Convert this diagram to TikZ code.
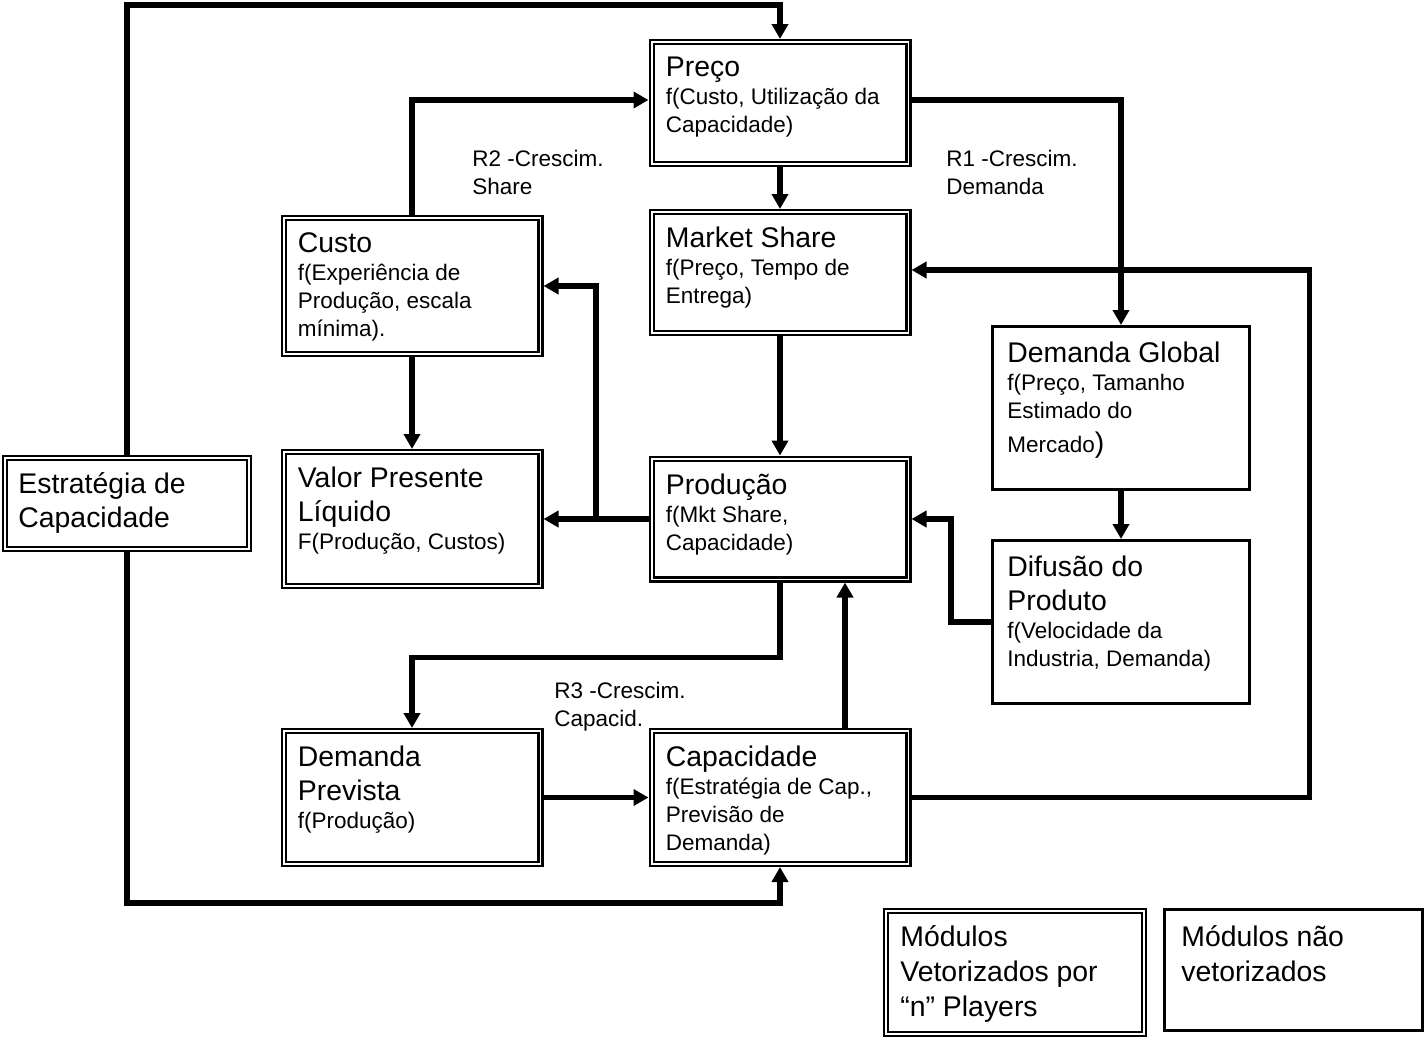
\documentclass[tikz,border=0pt]{standalone}
\usepackage{fontspec}
\setmainfont{Liberation Sans}
\usetikzlibrary{arrows.meta}
\newcommand{\titulo}{\fontsize{14.2}{17}\selectfont}

\tikzset{
	modulo/.style={draw, double, double distance=0.9pt, line width=1.1pt, outer sep=1.55pt, minimum width=128.4pt, inner sep=0pt},
	simples/.style={draw, line width=1.6pt, outer sep=0.8pt, minimum width=128.4pt, inner sep=0pt},
	seta/.style={-{Triangle[length=7.5pt,width=8pt]}, line width=2.7pt},
	texto/.style={anchor=north west, align=left, inner sep=0pt, font=\fontsize{11.25}{14}\selectfont},
}

\begin{document}
\begin{tikzpicture}[x=0.5pt, y=-0.5pt]
			\useasboundingbox (0,0) rectangle (1426,1040);

			% modulos
			\node[modulo, minimum height=60.9pt]	(preco)		at (780,103)	{};
			\node[modulo, minimum height=60.4pt]	(mshare)	at (780,272.5)	{};
			\node[modulo, minimum height=67.9pt]	(custo)		at (412,286)	{};
			\node[modulo, minimum height=66.9pt]	(vpl)		at (412,519)	{};
			\node[modulo, minimum height=60.4pt]	(prod)		at (780,519)	{};
			\node[modulo, minimum height=66.4pt]	(demprev)	at (412,797.5)	{};
			\node[modulo, minimum height=66.4pt]	(capac)		at (780,797.5)	{};
			\node[modulo, minimum width=121.9pt, minimum height=45.4pt]	(estrat)	at (127,503.5)	{};
			\node[simples, minimum height=81.4pt]	(demglob)	at (1121,408)	{};
			\node[simples, minimum height=81.4pt]	(difusao)	at (1121,622)	{};

			% legenda
			\node[modulo, minimum width=128.9pt, minimum height=61.4pt]		(leg1)	at (1015,972.5)	{};
			\node[simples, minimum width=128.9pt, minimum height=60.4pt]	(leg2)	at (1293.5,970)	{};

			% textos
			\node[texto] (preco-t)	at ([xshift=8.5pt, yshift=-8.8pt]preco.north west)	{{\titulo Preço}\\f(Custo, Utilização da\\Capacidade)};
			\node[texto] (mshare-t)	at ([xshift=8.5pt, yshift=-8.8pt]mshare.north west)	{{\titulo Market Share}\\f(Preço, Tempo de\\Entrega)};
			\node[texto] (custo-t)	at ([xshift=8.5pt, yshift=-8.8pt]custo.north west)	{{\titulo Custo}\\f(Experiência de\\Produção, escala\\mínima).};
			\node[texto] (vpl-t)	at ([xshift=8.5pt, yshift=-8.8pt]vpl.north west)	{{\titulo Valor Presente}\\[3pt]{\titulo Líquido}\\F(Produção, Custos)};
			\node[texto] (prod-t)	at ([xshift=8.5pt, yshift=-8.8pt]prod.north west)	{{\titulo Produção}\\f(Mkt Share,\\Capacidade)};
			\node[texto] (demprev-t) at ([xshift=8.5pt, yshift=-8.8pt]demprev.north west)	{{\titulo Demanda}\\[3pt]{\titulo Prevista}\\f(Produção)};
			\node[texto] (capac-t)	at ([xshift=8.5pt, yshift=-8.8pt]capac.north west)	{{\titulo Capacidade}\\f(Estratégia de Cap.,\\Previsão de\\Demanda)};
			\node[texto, font=\titulo] (estrat-t) at ([xshift=8pt, yshift=-8.8pt]estrat.north west) {Estratégia de\\Capacidade};
			\node[texto] (demglob-t) at ([xshift=8pt, yshift=-8.3pt]demglob.north west)	{{\titulo Demanda Global}\\f(Preço, Tamanho\\Estimado do\\[3pt]Mercado{\titulo )}};
			\node[texto] (difusao-t) at ([xshift=8pt, yshift=-8.3pt]difusao.north west)	{{\titulo Difusão do}\\[3pt]{\titulo Produto}\\f(Velocidade da\\Industria, Demanda)};
			\node[texto, font=\fontsize{14.2}{17.5}\selectfont] (leg1-t) at ([xshift=8.5pt, yshift=-8.8pt]leg1.north west) {Módulos\\Vetorizados por\\“n” Players};
			\node[texto, font=\fontsize{14.2}{17.5}\selectfont] (leg2-t) at ([xshift=9pt, yshift=-8.8pt]leg2.north west) {Módulos não\\vetorizados};

			% lacos
			\node[texto] (r2) at (472,150) {R2 -Crescim.\\Share};
			\node[texto] (r1) at (946,150) {R1 -Crescim.\\Demanda};
			\node[texto] (r3) at (554,682) {R3 -Crescim.\\Capacid.};

			% conexoes
			\coordinate (ramo) at (596,519);

			\draw[seta]	(estrat.north) |- ([yshift=17pt]preco.north) -- (preco.north);
			\draw[seta]	(estrat.south) |- ([yshift=-18pt]capac.south) -- (capac.south);
			\draw[seta]	(custo.north) |- ([yshift=1.5pt]preco.west);
			\draw[seta]	([yshift=1.5pt]preco.east) -| (demglob.north);
			\draw[seta]	(preco) -- (mshare);
			\draw[seta]	(mshare) -- (prod);
			\draw[seta]	(custo) -- (vpl);
			\draw[seta]	(prod.west) -- (vpl.east);
			\draw[seta]	(ramo) |- (custo.east);
			\draw[seta]	(demglob) -- (difusao);
			\draw[seta]	(difusao.west) -- ++(-40,0) |- (prod.east);
			\draw[seta]	(prod.south) -- ++(0,75) -| (demprev.north);
			\draw[seta]	(demprev) -- (capac);
			\draw[seta]	([xshift=32.5pt]capac.north) -- ([xshift=32.5pt]prod.south);
			\draw[seta]	(capac.east) -- ++(398,0) |- ([yshift=1.25pt]mshare.east);
		\end{tikzpicture}
\end{document}
